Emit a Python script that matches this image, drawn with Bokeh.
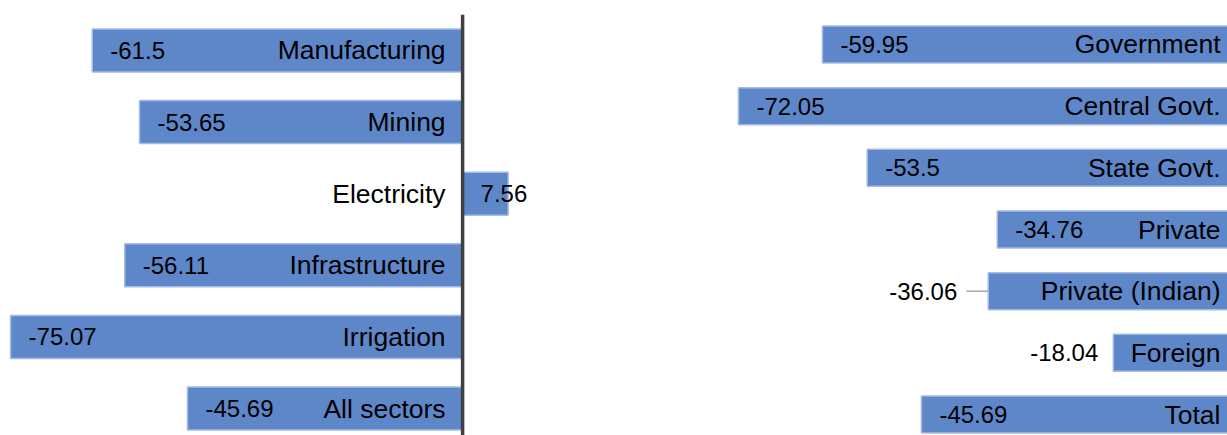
from bokeh.plotting import figure
from bokeh.layouts import row
from bokeh.models import Range1d
from bokeh.core.properties import value
from bokeh.embed import file_html
from bokeh.resources import INLINE

# Percentage change by sector
sectors = ["Manufacturing", "Mining", "Electricity", "Infrastructure", "Irrigation", "All sectors"]
sector_change = [-61.5, -53.65, 7.56, -56.11, -75.07, -45.69]

# Percentage change by ownership
owners = ["Government", "Central Govt.", "State Govt.", "Private",
          "Private (Indian)", "Foreign", "Total"]
owner_change = [-59.95, -72.05, -53.5, -34.76, -36.06, -18.04, -45.69]

FILL = "#5E87CA"
EDGE = "#A4BCE4"
FONT = value("Liberation Sans")
NUM_SIZE = "24px"
CAT_SIZE = "26.5px"
INK = "#000000"


def blank_figure(width, x_range, y_range):
    p = figure(width=width, height=435, x_range=x_range, y_range=y_range,
               output_backend="svg", toolbar_location=None, min_border=0)
    p.axis.visible = False
    p.grid.visible = False
    p.outline_line_color = None
    p.background_fill_color = "white"
    p.border_fill_color = "white"
    return p


# ---- left panel: sectors, zero line drawn in the middle ----
left_w = 600
left = blank_figure(left_w, Range1d(-76.74, 22.9), Range1d(5.377, -0.698))
ys = list(range(len(sectors)))
left.hbar(y=ys, left=0, right=sector_change, height=0.6,
          fill_color=FILL, line_color=EDGE, line_width=1.5)
left.segment(x0=[0], y0=[-0.5], x1=[0], y1=[len(sectors)],
             line_color="#404040", line_width=3.5)
left.text(x=[0] * len(sectors), y=ys, text=sectors, x_offset=-17,
          text_align="right", text_baseline="middle",
          text_font=FONT, text_font_size=CAT_SIZE, text_color=INK)
left.text(x=[min(v, 0) for v in sector_change], y=ys,
          text=[str(v) for v in sector_change], x_offset=18,
          text_align="left", text_baseline="middle",
          text_font=FONT, text_font_size=NUM_SIZE, text_color=INK)

# ---- right panel: ownership, zero line just past the right edge ----
right_w = 627
rx = Range1d(-91.93, -1.585)
right = blank_figure(right_w, rx, Range1d(6.34, -0.713))
px_per_unit = right_w / (rx.end - rx.start)
yo = list(range(len(owners)))
right.hbar(y=yo, left=0, right=owner_change, height=0.6,
           fill_color=FILL, line_color=EDGE, line_width=1.5)
right.text(x=[0] * len(owners), y=yo, text=owners, x_offset=-18,
           text_align="right", text_baseline="middle",
           text_font=FONT, text_font_size=CAT_SIZE, text_color=INK)

# value labels: inside the bar base, except two placed outside on the left
outside_gap = {"Private (Indian)": 31, "Foreign": 15}
for name, v, y in zip(owners, owner_change, yo):
    if name in outside_gap:
        right.text(x=[v], y=[y], text=[str(v)], x_offset=-outside_gap[name],
                   text_align="right", text_baseline="middle",
                   text_font=FONT, text_font_size=NUM_SIZE, text_color=INK)
    else:
        right.text(x=[v], y=[y], text=[str(v)], x_offset=18,
                   text_align="left", text_baseline="middle",
                   text_font=FONT, text_font_size=NUM_SIZE, text_color=INK)

# leader line for the moved label
li = owners.index("Private (Indian)")
lv = owner_change[li]
right.segment(x0=[lv - 22 / px_per_unit], y0=[li], x1=[lv], y1=[li],
              line_color="#A6A6A6", line_width=1.5)

layout = row(left, right)
open("out.html", "w").write(file_html(layout, INLINE))
